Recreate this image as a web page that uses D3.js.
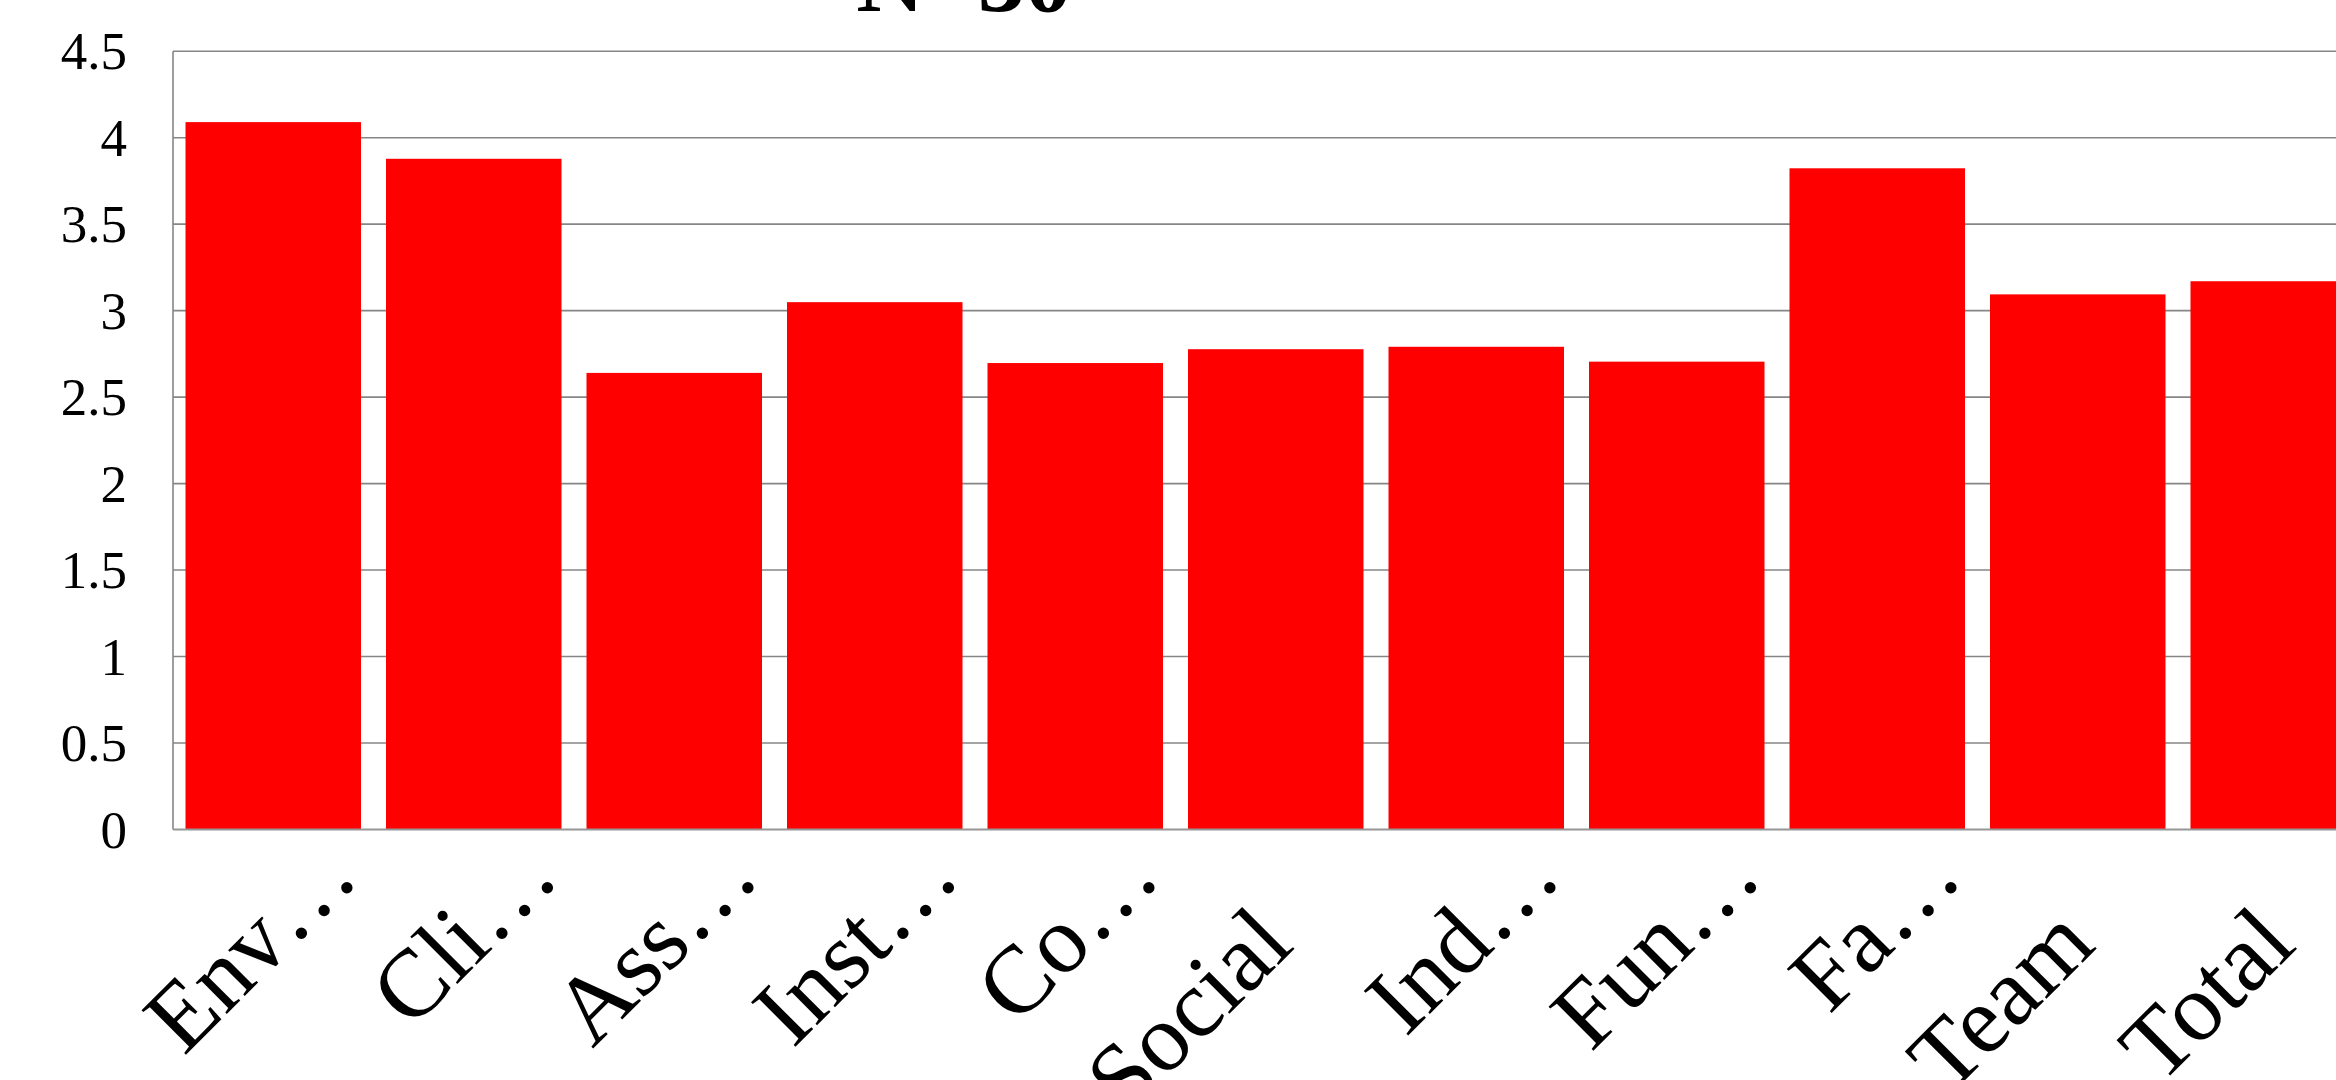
<!DOCTYPE html>
<html>
<head>
<meta charset="utf-8">
<script src="https://cdn.jsdelivr.net/npm/d3@7"></script>
<style>
  html, body { margin: 0; padding: 0; background: #ffffff; overflow: hidden; }
  svg { display: block; }
  text { font-family: "Liberation Serif", "Times New Roman", serif; fill: #000; }
</style>
</head>
<body>
<svg id="chart" width="2336" height="1080"></svg>
<script>
// ---- data ----
const categories = ["Env…", "Cli…", "Ass…", "Inst…", "Co…", "Social", "Ind…", "Fun…", "Fa…", "Team", "Total"];
const values = [4.09, 3.878, 2.64, 3.049, 2.697, 2.777, 2.791, 2.705, 3.823, 3.094, 3.17];
const yTicks = [0, 0.5, 1, 1.5, 2, 2.5, 3, 3.5, 4, 4.5];
const yTickLabels = ["0", "0.5", "1", "1.5", "2", "2.5", "3", "3.5", "4", "4.5"];
const titleText = "N=30";

// ---- layout ----
const svg = d3.select("#chart");
const plotLeft = 173, plotTop = 51.2, plotBottom = 829.5;
const step = 200.5;
const plotRight = plotLeft + step * categories.length;

const x = d3.scaleBand()
  .domain(categories)
  .range([plotLeft, plotRight])
  .paddingInner(25 / 200.5)
  .paddingOuter(12.5 / 200.5);

const y = d3.scaleLinear().domain([0, 4.5]).range([plotBottom, plotTop]);

// gridlines
svg.append("g").selectAll("line")
  .data(yTicks.filter(d => d > 0))
  .join("line")
  .attr("x1", plotLeft).attr("x2", plotRight)
  .attr("y1", d => y(d)).attr("y2", d => y(d))
  .attr("stroke", "#868686").attr("stroke-width", 1.6);

// bars
svg.append("g").selectAll("rect")
  .data(categories)
  .join("rect")
  .attr("x", d => x(d))
  .attr("width", x.bandwidth())
  .attr("y", (d, i) => y(values[i]))
  .attr("height", (d, i) => y(0) - y(values[i]))
  .attr("fill", "#ff0000");

// axes lines
svg.append("line")
  .attr("x1", plotLeft).attr("x2", plotLeft)
  .attr("y1", y(4.5)).attr("y2", y(0))
  .attr("stroke", "#868686").attr("stroke-width", 1.6);
svg.append("line")
  .attr("x1", plotLeft).attr("x2", plotRight)
  .attr("y1", y(0)).attr("y2", y(0))
  .attr("stroke", "#969696").attr("stroke-width", 1.8);

// y tick labels
svg.append("g").selectAll("text")
  .data(yTicks)
  .join("text")
  .attr("x", plotLeft - 46)
  .attr("y", d => y(d))
  .attr("dy", "0.34em")
  .attr("text-anchor", "end")
  .attr("font-size", 53)
  .text((d, i) => yTickLabels[i]);

// x category labels (rotated -45°)
const lab = svg.append("g").selectAll("g")
  .data(categories)
  .join("g")
  .attr("transform", d => `translate(${x(d) + x.bandwidth() / 2 + 20},${y(0) + 118}) rotate(-45)`);
lab.append("text")
  .attr("text-anchor", "end")
  .attr("font-size", 96)
  .text(d => d.endsWith("…") ? d.slice(0, -1) : d);
lab.filter(d => d.endsWith("…")).append("text")
  .attr("text-anchor", "start")
  .attr("font-size", 96)
  .text("…");

// title (clipped at top)
svg.append("text")
  .attr("x", 964)
  .attr("y", 10.5)
  .attr("text-anchor", "middle")
  .attr("font-size", 94)
  .attr("font-weight", "bold")
  .text(titleText);
</script>
</body>
</html>
